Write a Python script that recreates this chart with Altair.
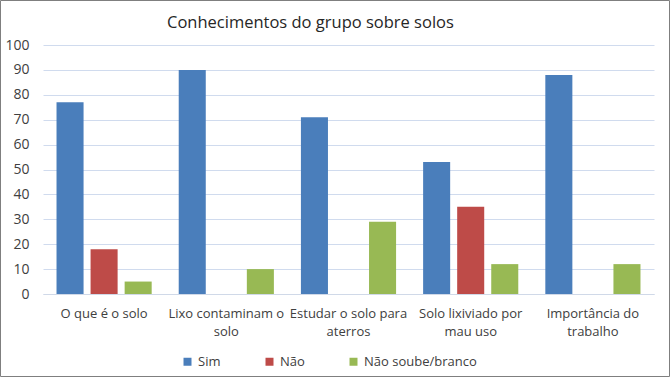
import altair as alt
import pandas as pd

categories = ["O que é o solo", "Lixo contaminam o|solo", "Estudar o solo para|aterros",
              "Solo lixiviado por|mau uso", "Importância do|trabalho"]
series = ["Sim", "Não", "Não soube/branco"]
sim = [77, 90, 71, 53, 88]
nao = [18, 0, 0, 35, 0]
nao_soube = [5, 10, 29, 12, 12]
colors = ["#4a7ebb", "#be4b48", "#98b954"]

rows = []
for i, c in enumerate(categories):
    for s, vals in zip(series, [sim, nao, nao_soube]):
        rows.append({"cat": c, "serie": s, "valor": vals[i]})
df = pd.DataFrame(rows)

FONT = "Open Sans"

bars = alt.Chart(df).mark_bar().encode(
    x=alt.X("cat:N", sort=categories, title=None,
            scale=alt.Scale(paddingInner=0, paddingOuter=0),
            axis=alt.Axis(labelExpr="split(datum.label, '|')", labelAngle=0,
                          labelFontSize=13, labelColor="#404040", labelFont=FONT,
                          labelPadding=13, labelLineHeight=18, tickSize=0,
                          domainColor="#d0d9e8", grid=False, labelLimit=200)),
    xOffset=alt.XOffset("serie:N", sort=series,
                        scale=alt.Scale(paddingInner=0.206, paddingOuter=0.397)),
    y=alt.Y("valor:Q", title=None,
            scale=alt.Scale(domain=[0, 100]),
            axis=alt.Axis(values=list(range(0, 101, 10)), labelFontSize=14,
                          labelColor="#404040", labelFont=FONT, labelPadding=14,
                          tickSize=0, domain=False, gridColor="#d0dbee")),
    color=alt.Color("serie:N", sort=series,
                    scale=alt.Scale(domain=series, range=colors),
                    legend=alt.Legend(title=None, orient="none", direction="horizontal",
                                      legendX=138, legendY=310, symbolType="square",
                                      symbolSize=64, symbolStrokeWidth=0,
                                      labelFontSize=13, labelColor="#404040",
                                      labelFont=FONT, columnPadding=42, labelOffset=4)),
)

frame = alt.Chart(pd.DataFrame({"a": [0]})).mark_rect(
    fill=None, stroke="#7f7f7f", strokeWidth=1
).encode(x=alt.value(-42.5), x2=alt.value(626.5), y=alt.value(-44.5), y2=alt.value(331.5))

chart = alt.layer(bars, frame).properties(
    width=611, height=249,
    padding={"left": 43, "top": 45, "right": 16, "bottom": 83},
    autosize=alt.AutoSizeParams(type="none"),
    title=alt.Title("Conhecimentos do grupo sobre solos", anchor="start", dx=167,
                    fontSize=16.5, font=FONT, fontWeight="normal", color="#262626",
                    offset=-31),
).configure_view(stroke=None)

chart.save("out.html", embed_options={"renderer": "svg", "actions": False})
